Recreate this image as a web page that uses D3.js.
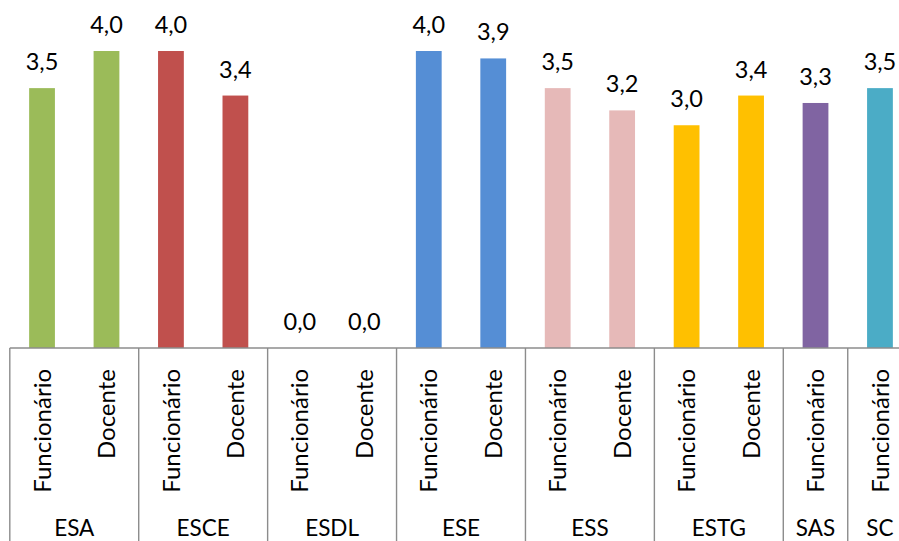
<!DOCTYPE html>
<html>
<head>
<meta charset="utf-8">
<script src="https://cdn.jsdelivr.net/npm/d3@7"></script>
<style>
  html, body { margin: 0; padding: 0; background: #fff; }
  svg { display: block; }
  text { font-family: Lato, "Open Sans", sans-serif; fill: #000; }
</style>
</head>
<body>
<svg id="chart" width="899" height="541"></svg>
<script>
// Schools (outer axis level) and their colours
const groups = ["ESA", "ESCE", "ESDL", "ESE", "ESS", "ESTG", "SAS", "SC"];
const groupColors = ["#9BBB59", "#C0504D", "#8EB4E3", "#558ED5", "#E6B9B8", "#FFC000", "#8064A2", "#4BACC6"];
// Inner axis level: one entry per bar
const barGroups = ["ESA", "ESA", "ESCE", "ESCE", "ESDL", "ESDL", "ESE", "ESE", "ESS", "ESS", "ESTG", "ESTG", "SAS", "SC"];
const roles = ["Funcionário", "Docente", "Funcionário", "Docente", "Funcionário", "Docente", "Funcionário", "Docente",
               "Funcionário", "Docente", "Funcionário", "Docente", "Funcionário", "Funcionário"];
const values = [3.5, 4.0, 4.0, 3.4, 0.0, 0.0, 4.0, 3.9, 3.5, 3.2, 3.0, 3.4, 3.3, 3.5];

const svg = d3.select("#chart");
const axisY = 348;

const x = d3.scaleBand()
  .domain(d3.range(values.length))
  .range([9.8, 912.2])
  .paddingInner(0.6)
  .paddingOuter(0.3);

const y = d3.scaleLinear().domain([0, 4]).range([axisY, 51]);

const color = d3.scaleOrdinal().domain(groups).range(groupColors);
const fmt = v => d3.format(".1f")(v).replace(".", ",");

// Bars
svg.append("g").selectAll("rect")
  .data(values)
  .join("rect")
  .attr("x", (d, i) => x(i))
  .attr("width", x.bandwidth())
  .attr("y", d => y(d))
  .attr("height", d => axisY - y(d))
  .attr("fill", (d, i) => color(barGroups[i]));

// Value labels above bars
svg.append("g").selectAll("text")
  .data(values)
  .join("text")
  .attr("x", (d, i) => x(i) + x.bandwidth() / 2)
  .attr("y", d => y(d) - 18)
  .attr("text-anchor", "middle")
  .attr("font-size", 23.5)
  .text(d => fmt(d));

// Category axis: baseline and group separators
const step = x.step();
const slotStart = i => x(i) - x.paddingOuter() * step;
const axis = svg.append("g").attr("stroke", "#8C8C8C").attr("stroke-width", 1.4);
axis.append("line")
  .attr("x1", slotStart(0)).attr("x2", 899)
  .attr("y1", axisY).attr("y2", axisY);

const boundaries = [];
barGroups.forEach((g, i) => { if (i === 0 || barGroups[i - 1] !== g) boundaries.push(i); });
axis.selectAll("line.sep")
  .data(boundaries)
  .join("line")
  .attr("class", "sep")
  .attr("x1", i => slotStart(i)).attr("x2", i => slotStart(i))
  .attr("y1", axisY).attr("y2", 541);

// Inner labels (roles), rotated
svg.append("g").selectAll("text")
  .data(roles)
  .join("text")
  .attr("transform", (d, i) => `translate(${x(i) + x.bandwidth() / 2},369) rotate(-90)`)
  .attr("text-anchor", "end")
  .attr("dy", "0.36em")
  .attr("font-size", 24)
  .text(d => d);

// Outer labels (schools), centred under each group
const groupSpans = groups.map(g => {
  const idx = barGroups.map((b, i) => b === g ? i : -1).filter(i => i >= 0);
  return { g, x0: slotStart(idx[0]), x1: slotStart(idx[idx.length - 1]) + step };
});
svg.append("g").selectAll("text")
  .data(groupSpans)
  .join("text")
  .attr("x", d => (d.x0 + d.x1) / 2)
  .attr("y", 536)
  .attr("text-anchor", "middle")
  .attr("font-size", 22.5)
  .text(d => d.g);
</script>
</body>
</html>
